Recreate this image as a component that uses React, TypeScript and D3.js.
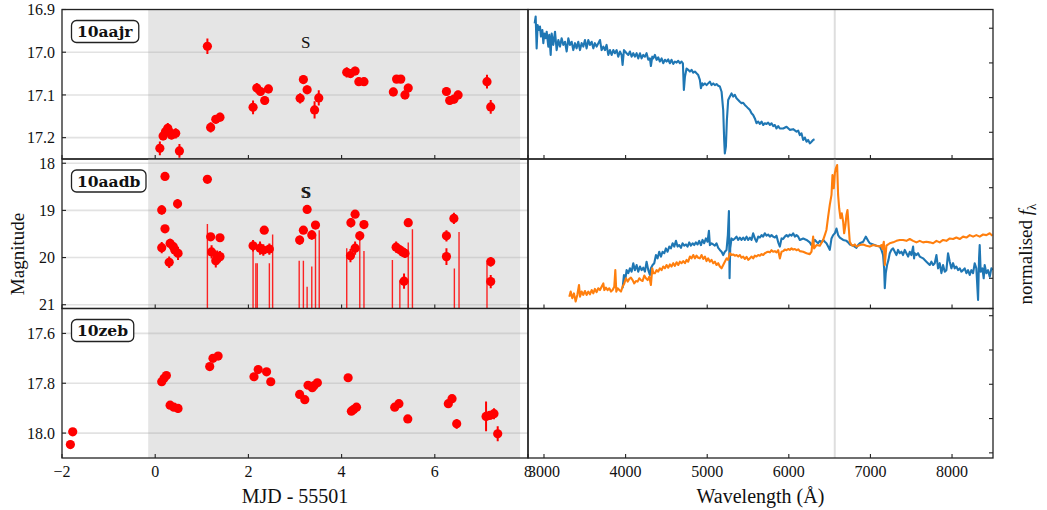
import React, { useEffect, useRef } from 'react';
import * as d3 from 'd3';

const FONT = '"Liberation Serif", "Times New Roman", serif';
const BOXFONT = '"DejaVu Serif", serif';

// light curves, days since MJD 55501
const aajrDays = [0.10, 0.17, 0.22, 0.27, 0.30, 0.35, 0.44, 0.52, 1.12, 1.19, 1.30, 1.39, 2.10, 2.18, 2.26, 2.35, 2.43, 3.11, 3.18, 3.26, 3.42, 3.51, 4.11, 4.19, 4.29, 4.37, 4.48, 5.11, 5.18, 5.27, 5.36, 5.43, 6.25, 6.32, 6.41, 6.50, 7.12, 7.20];
const aajrMag = [17.225, 17.196, 17.186, 17.178, 17.186, 17.194, 17.190, 17.231, 16.986, 17.176, 17.157, 17.152, 17.129, 17.084, 17.092, 17.113, 17.086, 17.108, 17.064, 17.088, 17.135, 17.107, 17.047, 17.050, 17.044, 17.069, 17.069, 17.093, 17.063, 17.063, 17.100, 17.084, 17.092, 17.113, 17.110, 17.100, 17.069, 17.128];
const aajrErr = [0.016, 0.010, 0.010, 0.012, 0.010, 0.010, 0.012, 0.016, 0.018, 0.012, 0.010, 0.010, 0.016, 0.012, 0.010, 0.010, 0.010, 0.012, 0.010, 0.010, 0.020, 0.018, 0.012, 0.010, 0.010, 0.010, 0.010, 0.010, 0.008, 0.008, 0.010, 0.010, 0.010, 0.010, 0.010, 0.010, 0.016, 0.016];

const aadbDays = [0.14, 0.14, 0.21, 0.21, 0.30, 0.32, 0.39, 0.42, 0.48, 0.49, 1.12, 1.19, 1.21, 1.30, 1.33, 1.39, 1.39, 2.10, 2.25, 2.34, 2.32, 2.45, 3.10, 3.18, 3.26, 3.36, 3.44, 4.19, 4.20, 4.29, 4.29, 4.39, 4.48, 5.17, 5.24, 5.31, 5.36, 5.34, 5.43, 6.25, 6.25, 6.41, 7.20, 7.20];
const aadbMag = [19.79, 18.99, 18.28, 19.39, 20.10, 19.70, 19.77, 19.84, 18.86, 19.91, 18.34, 19.56, 19.88, 20.07, 19.97, 19.58, 19.98, 19.75, 19.80, 19.42, 19.84, 19.82, 19.63, 19.42, 18.98, 19.52, 19.31, 19.96, 19.26, 19.08, 19.80, 19.54, 19.30, 19.78, 19.83, 19.88, 19.91, 20.50, 19.26, 19.54, 19.98, 19.17, 20.09, 20.51];
const aadbErr = [0.12, 0.10, 0.06, 0.08, 0.12, 0.10, 0.10, 0.12, 0.10, 0.14, 0.06, 0.08, 0.14, 0.14, 0.12, 0.08, 0.12, 0.12, 0.14, 0.08, 0.12, 0.12, 0.10, 0.08, 0.08, 0.10, 0.08, 0.14, 0.10, 0.08, 0.14, 0.10, 0.08, 0.12, 0.10, 0.10, 0.10, 0.16, 0.08, 0.12, 0.18, 0.12, 0.10, 0.14];
// faint detections: error bars reaching up from below the axis
const aadbLimDays = [1.12, 2.10, 2.16, 2.19, 2.45, 2.52, 3.09, 3.18, 3.26, 3.36, 3.44, 3.52, 4.11, 4.39, 4.48, 5.09, 5.25, 5.43, 5.52, 6.42, 6.52, 7.12];
const aadbLimMag = [19.29, 19.80, 20.12, 20.12, 20.12, 19.51, 20.07, 20.07, 20.62, 20.19, 19.51, 19.42, 19.80, 19.56, 19.86, 20.05, 20.48, 19.68, 19.40, 20.23, 19.46, 20.12];

const zebDays = [-1.82, -1.77, 0.14, 0.19, 0.24, 0.32, 0.40, 0.49, 1.17, 1.24, 1.35, 2.12, 2.21, 2.39, 2.48, 3.10, 3.21, 3.28, 3.37, 3.41, 3.48, 4.14, 4.21, 4.26, 4.32, 5.14, 5.23, 5.42, 6.29, 6.37, 6.47, 7.10, 7.18, 7.27, 7.35];
const zebMag = [18.046, 17.995, 17.794, 17.780, 17.769, 17.888, 17.896, 17.901, 17.733, 17.700, 17.691, 17.774, 17.745, 17.754, 17.794, 17.845, 17.866, 17.808, 17.818, 17.809, 17.798, 17.778, 17.912, 17.905, 17.896, 17.896, 17.882, 17.943, 17.882, 17.862, 17.963, 17.933, 17.929, 17.922, 18.003];
const zebErr = [0.015, 0.010, 0.008, 0.008, 0.008, 0.008, 0.010, 0.018, 0.008, 0.008, 0.008, 0.008, 0.008, 0.008, 0.015, 0.008, 0.008, 0.008, 0.008, 0.008, 0.012, 0.008, 0.008, 0.008, 0.012, 0.008, 0.008, 0.008, 0.008, 0.008, 0.020, 0.060, 0.010, 0.022, 0.030];

// spectra [wavelength in Angstrom, normalised flux]
const spec10aajr: [number, number][] = [
  [2886, 4.14], [2898, 4.34], [2910, 3.42], [2922, 4.09], [2939, 3.95], [2951, 4.05], [2963, 3.76], [2980, 3.95], [2992, 3.57], [3004, 3.85],
  [3020, 3.71], [3033, 3.90], [3053, 3.47], [3065, 3.81], [3082, 3.23], [3094, 3.85], [3114, 3.52], [3135, 3.90], [3155, 3.37], [3176, 3.66],
  [3196, 3.47], [3216, 3.71], [3237, 3.52], [3257, 3.61], [3278, 3.33], [3298, 3.71], [3318, 3.52], [3339, 3.61], [3359, 3.37], [3380, 3.57],
  [3400, 3.42], [3420, 3.61], [3441, 3.37], [3461, 3.57], [3482, 3.47], [3502, 3.66], [3522, 3.42], [3543, 3.66], [3563, 3.52], [3584, 3.61],
  [3604, 3.42], [3624, 3.57], [3645, 3.47], [3686, 3.66], [3706, 3.37], [3727, 3.47], [3747, 3.37], [3767, 3.52], [3788, 3.23], [3808, 3.37],
  [3829, 3.23], [3849, 3.37], [3869, 3.28], [3890, 3.37], [3910, 3.18], [3931, 3.33], [3951, 3.23], [3963, 2.94], [3980, 3.37], [4012, 3.28],
  [4033, 3.23], [4053, 3.33], [4074, 3.18], [4094, 3.28], [4114, 3.18], [4135, 3.28], [4155, 3.13], [4176, 3.28], [4196, 3.13], [4216, 3.23],
  [4237, 3.18], [4257, 3.28], [4278, 3.09], [4298, 3.13], [4310, 2.91], [4327, 3.18], [4339, 3.13], [4359, 3.23], [4380, 3.09], [4400, 3.16],
  [4420, 3.04], [4441, 3.13], [4461, 2.99], [4482, 3.09], [4502, 3.04], [4522, 3.10], [4543, 2.99], [4563, 3.09], [4584, 2.97], [4604, 3.04],
  [4625, 3.01], [4645, 3.06], [4665, 2.99], [4686, 3.04], [4702, 2.99], [4714, 2.22], [4727, 2.60], [4747, 2.84], [4767, 2.80], [4788, 2.75],
  [4808, 2.80], [4829, 2.72], [4849, 2.75], [4869, 2.70], [4890, 2.65], [4910, 2.51], [4923, 2.27], [4939, 2.41], [4951, 2.36], [4972, 2.41],
  [4992, 2.36], [5012, 2.41], [5033, 2.46], [5053, 2.36], [5074, 2.41], [5094, 2.36], [5114, 2.39], [5135, 2.34], [5155, 2.32], [5176, 2.17],
  [5196, 1.64], [5208, 0.78], [5216, 0.39], [5229, 0.59], [5241, 1.35], [5257, 1.93], [5278, 2.03], [5298, 2.12], [5318, 2.03], [5339, 2.08],
  [5359, 1.98], [5380, 1.93], [5400, 1.88], [5420, 1.84], [5441, 1.85], [5461, 1.79], [5482, 1.74], [5502, 1.69], [5523, 1.64], [5543, 1.55],
  [5563, 1.50], [5584, 1.40], [5604, 1.26], [5625, 1.31], [5645, 1.24], [5666, 1.31], [5686, 1.21], [5706, 1.26], [5727, 1.24], [5747, 1.28],
  [5768, 1.21], [5788, 1.26], [5808, 1.18], [5829, 1.21], [5849, 1.11], [5870, 1.18], [5890, 1.11], [5931, 1.11], [5972, 1.16], [6012, 1.07],
  [6053, 1.09], [6094, 1.02], [6115, 1.05], [6135, 0.92], [6155, 0.97], [6176, 0.78], [6196, 0.85], [6217, 0.73], [6237, 0.78], [6257, 0.68],
  [6278, 0.73], [6298, 0.78], [6315, 0.80],
];

const spec10aadbEarly: [number, number][] = [
  [3963, 0.67], [3980, 1.11], [3996, 0.94], [4012, 1.27], [4033, 1.17], [4053, 1.33], [4074, 1.22], [4094, 1.50], [4114, 1.27], [4135, 1.44],
  [4155, 1.22], [4176, 1.39], [4196, 1.27], [4216, 1.35], [4237, 1.22], [4257, 1.55], [4278, 1.27], [4298, 1.11], [4310, 1.33], [4331, 1.44],
  [4351, 1.50], [4372, 1.77], [4392, 1.66], [4412, 1.88], [4433, 1.72], [4453, 1.88], [4474, 1.83], [4494, 1.99], [4514, 1.88], [4535, 2.05],
  [4555, 1.99], [4576, 2.16], [4596, 2.05], [4617, 2.24], [4637, 2.05], [4657, 2.10], [4678, 2.01], [4698, 2.16], [4719, 2.08], [4739, 2.12],
  [4759, 2.05], [4780, 2.19], [4800, 2.08], [4821, 2.16], [4841, 2.10], [4861, 2.19], [4882, 2.12], [4902, 2.24], [4923, 2.10], [4943, 2.27],
  [4963, 2.16], [4984, 2.32], [5004, 2.21], [5021, 2.57], [5033, 2.10], [5053, 2.16], [5074, 2.12], [5094, 2.08], [5114, 2.16], [5135, 2.01],
  [5155, 1.94], [5176, 1.88], [5196, 1.77], [5216, 1.88], [5237, 1.94], [5253, 2.43], [5266, 3.23], [5274, 1.00], [5282, 1.99], [5298, 2.32],
  [5318, 2.27], [5339, 2.32], [5359, 2.38], [5380, 2.27], [5400, 2.35], [5420, 2.27], [5441, 2.35], [5461, 2.27], [5482, 2.38], [5502, 2.27],
  [5523, 2.35], [5543, 2.27], [5563, 2.49], [5584, 2.32], [5604, 2.21], [5625, 2.38], [5645, 2.35], [5666, 2.43], [5686, 2.38], [5706, 2.49],
  [5727, 2.41], [5747, 2.45], [5768, 2.38], [5788, 2.43], [5808, 2.38], [5829, 2.35], [5849, 2.41], [5870, 2.19], [5890, 2.05], [5911, 2.32],
  [5931, 2.30], [5951, 2.38], [5972, 2.43], [5992, 2.38], [6012, 2.45], [6033, 2.41], [6053, 2.49], [6074, 2.38], [6094, 2.43], [6115, 2.38],
  [6135, 2.27], [6176, 2.32], [6217, 2.27], [6257, 2.19], [6278, 2.10], [6298, 2.19], [6319, 2.27], [6339, 2.21], [6359, 2.16], [6380, 2.24],
  [6400, 2.19], [6421, 2.27], [6441, 2.21], [6461, 2.16], [6482, 2.05], [6502, 1.94], [6523, 2.32], [6543, 2.43], [6564, 2.49], [6584, 2.65],
  [6604, 2.43], [6625, 2.35], [6666, 2.27], [6706, 2.24], [6727, 2.19], [6747, 2.12], [6788, 2.08], [6829, 2.01], [6849, 2.10], [6870, 2.16],
  [6911, 2.21], [6943, 2.38], [6972, 2.24], [6992, 2.16], [7033, 2.12], [7074, 2.08], [7115, 2.05], [7135, 1.94], [7155, 1.77], [7168, 1.33],
  [7176, 0.67], [7188, 1.17], [7204, 1.44], [7221, 1.61], [7237, 1.83], [7257, 1.94], [7278, 1.99], [7298, 1.88], [7319, 1.77], [7339, 1.94],
  [7359, 1.83], [7380, 1.88], [7400, 1.77], [7421, 1.94], [7441, 1.83], [7462, 1.72], [7482, 1.88], [7502, 1.77], [7523, 2.05], [7535, 1.66],
  [7543, 1.83], [7564, 1.77], [7584, 1.83], [7604, 1.72], [7645, 1.66], [7686, 1.55], [7727, 1.44], [7747, 1.55], [7768, 1.44], [7788, 1.50],
  [7809, 1.77], [7829, 1.33], [7849, 1.50], [7870, 1.17], [7890, 1.44], [7911, 1.22], [7931, 1.27], [7951, 1.83], [7972, 1.55], [7992, 1.33],
  [8013, 1.50], [8033, 1.33], [8053, 1.39], [8074, 1.27], [8094, 1.33], [8115, 1.22], [8135, 1.27], [8155, 1.33], [8176, 1.17], [8196, 1.27],
  [8217, 1.11], [8237, 1.27], [8258, 1.17], [8278, 1.50], [8298, 1.33], [8311, 0.67], [8319, 0.28], [8331, 1.66], [8339, 2.10], [8351, 1.22],
  [8372, 1.33], [8388, 1.00], [8400, 1.44], [8421, 1.17], [8441, 1.27], [8462, 1.05], [8482, 1.33], [8494, 1.27],
];

const spec10aadbLate: [number, number][] = [
  [3310, 0.39], [3327, 0.56], [3347, 0.34], [3367, 0.50], [3388, 0.23], [3408, 0.45], [3429, 0.78], [3441, 0.39], [3461, 0.56], [3482, 0.45],
  [3502, 0.58], [3522, 0.45], [3543, 0.56], [3563, 0.47], [3584, 0.61], [3604, 0.50], [3624, 0.65], [3645, 0.54], [3665, 0.67], [3686, 0.61],
  [3706, 0.72], [3727, 0.83], [3739, 0.61], [3759, 0.69], [3780, 0.61], [3800, 0.67], [3821, 0.56], [3841, 0.61], [3861, 0.72], [3874, 1.27],
  [3886, 0.56], [3902, 0.67], [3923, 0.61], [3943, 0.56], [3963, 0.72], [3984, 0.83], [4004, 1.00], [4025, 0.89], [4045, 0.98], [4065, 1.02],
  [4086, 0.94], [4106, 0.83], [4127, 0.91], [4147, 0.89], [4168, 1.00], [4188, 0.94], [4208, 0.91], [4229, 1.09], [4249, 1.00], [4270, 0.94],
  [4290, 1.05], [4310, 0.78], [4327, 1.33], [4339, 1.17], [4359, 1.17], [4380, 1.27], [4400, 1.22], [4420, 1.33], [4441, 1.27], [4461, 1.39],
  [4482, 1.33], [4502, 1.44], [4522, 1.35], [4543, 1.46], [4563, 1.39], [4584, 1.50], [4604, 1.41], [4625, 1.53], [4645, 1.44], [4665, 1.55],
  [4686, 1.50], [4706, 1.57], [4727, 1.50], [4747, 1.61], [4767, 1.55], [4788, 1.72], [4808, 1.66], [4829, 1.77], [4849, 1.66], [4869, 1.75],
  [4890, 1.68], [4910, 1.66], [4931, 1.77], [4951, 1.64], [4972, 1.72], [4992, 1.57], [5012, 1.66], [5033, 1.55], [5053, 1.61], [5074, 1.50],
  [5094, 1.55], [5114, 1.44], [5135, 1.50], [5155, 1.39], [5176, 1.33], [5196, 1.44], [5216, 1.55], [5237, 1.66], [5257, 1.61], [5278, 1.83],
  [5298, 1.77], [5318, 1.79], [5339, 1.75], [5359, 1.77], [5380, 1.72], [5400, 1.77], [5420, 1.68], [5441, 1.72], [5461, 1.64], [5482, 1.71],
  [5502, 1.61], [5523, 1.66], [5543, 1.72], [5563, 1.66], [5584, 1.75], [5604, 1.72], [5625, 1.77], [5645, 1.75], [5666, 1.80], [5686, 1.77],
  [5706, 1.83], [5727, 1.86], [5747, 1.88], [5768, 1.86], [5788, 1.93], [5808, 1.88], [5829, 1.90], [5849, 1.86], [5870, 1.93], [5890, 1.66],
  [5911, 1.88], [5931, 1.90], [5951, 1.95], [5972, 1.93], [5992, 1.97], [6012, 1.94], [6033, 1.99], [6053, 1.95], [6074, 1.97], [6094, 1.93],
  [6115, 1.96], [6135, 1.90], [6176, 1.88], [6217, 1.83], [6257, 1.80], [6278, 1.88], [6298, 2.38], [6310, 1.99], [6339, 2.10], [6380, 2.08],
  [6421, 2.27], [6441, 2.43], [6461, 2.60], [6482, 3.04], [6502, 3.43], [6523, 3.76], [6535, 4.42], [6551, 3.98], [6564, 4.48], [6576, 4.64],
  [6592, 4.75], [6604, 3.76], [6617, 3.32], [6633, 2.99], [6649, 3.15], [6666, 2.87], [6678, 2.49], [6694, 2.76], [6706, 3.10], [6719, 3.26],
  [6735, 2.65], [6747, 2.21], [6768, 2.10], [6788, 2.08], [6808, 2.12], [6829, 2.05], [6870, 2.10], [6911, 2.12], [6951, 2.08], [6992, 2.05],
  [7033, 2.10], [7074, 2.08], [7115, 2.05], [7135, 2.10], [7147, 1.97], [7164, 2.21], [7176, 1.44], [7196, 2.08], [7217, 2.12], [7237, 2.16],
  [7278, 2.19], [7319, 2.24], [7359, 2.27], [7400, 2.27], [7441, 2.24], [7482, 2.30], [7523, 2.24], [7564, 2.19], [7604, 2.24], [7645, 2.19],
  [7686, 2.21], [7727, 2.19], [7768, 2.16], [7809, 2.24], [7849, 2.19], [7890, 2.27], [7931, 2.24], [7972, 2.32], [8013, 2.30], [8053, 2.35],
  [8094, 2.30], [8135, 2.38], [8176, 2.35], [8217, 2.43], [8258, 2.38], [8298, 2.43], [8339, 2.38], [8380, 2.45], [8421, 2.43], [8462, 2.49],
  [8494, 2.41],
];

const mjdTicks = [-2, 0, 2, 4, 6, 8];
const waveTicks = [3000, 4000, 5000, 6000, 7000, 8000];
const aajrTicks = [16.9, 17.0, 17.1, 17.2];
const aadbTicks = [18, 19, 20, 21];
const zebTicks = [17.6, 17.8, 18.0];
const fluxTicksTop = [1, 2, 3, 4];
const fluxTicksMid = [0, 1, 2, 3, 4];
const fluxTicksBot = [0, 1, 2, 3, 4];
const windowStart = -0.15;
const windowEnd = 7.83;
const halpha = 6563;

const App: React.FC = () => {
  const ref = useRef<SVGSVGElement>(null);

  useEffect(() => {
    const svg = d3.select(ref.current);
    svg.selectAll('*').remove();

    const L0 = 62, L1 = 528, R1 = 993;
    const rows: [number, number][] = [[9.5, 159], [159, 308.5], [308.5, 458]];
    const x = d3.scaleLinear().domain([-2, 8]).range([L0, L1]);
    const xw = d3.scaleLinear().domain([2804, 8502]).range([L1, R1]);

    const panels = [
      { label: '10aajr', days: aajrDays, mag: aajrMag, err: aajrErr, dom: [16.9, 17.25], ticks: aajrTicks, fmt: d3.format('.1f'),
        limDays: [] as number[], limMag: [] as number[], epochs: [3.23],
        fdom: [0.23, 4.54], fticks: fluxTicksTop, spectra: [{ d: spec10aajr, c: '#1f77b4' }] },
      { label: '10aadb', days: aadbDays, mag: aadbMag, err: aadbErr, dom: [17.91, 21.08], ticks: aadbTicks, fmt: d3.format('d'),
        limDays: aadbLimDays, limMag: aadbLimMag, epochs: [3.22, 3.25],
        fdom: [0, 4.95], fticks: fluxTicksMid, spectra: [{ d: spec10aadbEarly, c: '#1f77b4' }, { d: spec10aadbLate, c: '#ff7f0e' }] },
      { label: '10zeb', days: zebDays, mag: zebMag, err: zebErr, dom: [17.5, 18.1], ticks: zebTicks, fmt: d3.format('.1f'),
        limDays: [] as number[], limMag: [] as number[], epochs: [] as number[],
        fdom: [-0.15, 4.21], fticks: fluxTicksBot, spectra: [] as { d: [number, number][]; c: string }[] },
    ];

    const defs = svg.append('defs');
    const ink = '#222';

    panels.forEach((p, i) => {
      const [top, bot] = rows[i];
      const y = d3.scaleLinear().domain(p.dom).range([top, bot]);
      const fy = d3.scaleLinear().domain(p.fdom).range([bot, top]);

      // ---- left: light curve ----
      defs.append('clipPath').attr('id', `cl${i}`)
        .append('rect').attr('x', L0).attr('y', top).attr('width', L1 - L0).attr('height', bot - top);
      const g = svg.append('g');
      const gc = g.append('g').attr('clip-path', `url(#cl${i})`);

      gc.append('rect')
        .attr('x', x(windowStart)).attr('y', top)
        .attr('width', x(windowEnd) - x(windowStart)).attr('height', bot - top)
        .attr('fill', '#e5e5e5');

      gc.selectAll('.grid').data(p.ticks).enter().append('line')
        .attr('x1', L0).attr('x2', L1).attr('y1', d => y(d)).attr('y2', d => y(d))
        .attr('stroke', '#a8a8a8').attr('stroke-opacity', 0.33).attr('stroke-width', 1.6);

      gc.selectAll('.lim').data(p.limDays).enter().append('line')
        .attr('x1', d => x(d)).attr('x2', d => x(d))
        .attr('y1', bot).attr('y2', (d, k) => y(p.limMag[k]))
        .attr('stroke', '#ff0000').attr('stroke-width', 1.4).attr('stroke-opacity', 0.85);

      gc.selectAll('.eb').data(p.days).enter().append('line')
        .attr('x1', d => x(d)).attr('x2', d => x(d))
        .attr('y1', (d, k) => y(p.mag[k] - p.err[k])).attr('y2', (d, k) => y(p.mag[k] + p.err[k]))
        .attr('stroke', '#ff0000').attr('stroke-width', 2);

      gc.selectAll('.pt').data(p.days).enter().append('circle')
        .attr('cx', d => x(d)).attr('cy', (d, k) => y(p.mag[k])).attr('r', 4.6)
        .attr('fill', '#ff0000');

      p.epochs.forEach((e, k) => {
        g.append('text').attr('x', x(e)).attr('y', top + 38.5 + k * 0.8)
          .attr('text-anchor', 'middle').attr('font-family', FONT).attr('font-size', 17)
          .attr('fill', '#111').text('S');
      });

      // name tag
      const tag = g.append('g');
      const tt = tag.append('text').attr('x', 77).attr('y', top + 27.5)
        .attr('font-family', BOXFONT).attr('font-weight', 'bold').attr('font-size', 15.5)
        .attr('fill', '#111').text(p.label);
      const bb = (tt.node() as SVGTextElement).getBBox();
      tag.insert('rect', 'text')
        .attr('x', bb.x - 5.5).attr('y', bb.y - 1.5).attr('width', bb.width + 11).attr('height', bb.height + 3)
        .attr('rx', 5).attr('fill', 'white').attr('stroke', ink).attr('stroke-width', 1.3);

      g.append('rect').attr('x', L0).attr('y', top).attr('width', L1 - L0).attr('height', bot - top)
        .attr('fill', 'none').attr('stroke', ink).attr('stroke-width', 1.3);

      g.selectAll('.yt').data(p.ticks).enter().append('line')
        .attr('x1', L0).attr('x2', L0 + 4).attr('y1', d => y(d)).attr('y2', d => y(d))
        .attr('stroke', ink).attr('stroke-width', 1.1);
      g.selectAll('.yl').data(p.ticks).enter().append('text')
        .attr('x', L0 - 7).attr('y', d => y(d)).attr('dy', '0.35em')
        .attr('text-anchor', 'end').attr('font-family', FONT).attr('font-size', 16).attr('fill', '#111')
        .text(d => p.fmt(d));

      g.selectAll('.xt').data(mjdTicks).enter().append('line')
        .attr('x1', d => x(d)).attr('x2', d => x(d)).attr('y1', bot).attr('y2', bot - 4)
        .attr('stroke', ink).attr('stroke-width', 1.1);

      // ---- right: spectra ----
      defs.append('clipPath').attr('id', `cr${i}`)
        .append('rect').attr('x', L1).attr('y', top).attr('width', R1 - L1).attr('height', bot - top);
      const r = svg.append('g');
      const rc = r.append('g').attr('clip-path', `url(#cr${i})`);

      rc.append('line').attr('x1', xw(halpha)).attr('x2', xw(halpha)).attr('y1', top).attr('y2', bot)
        .attr('stroke', '#dedede').attr('stroke-width', 2);

      const line = d3.line<[number, number]>().x(d => xw(d[0])).y(d => fy(d[1]));
      p.spectra.forEach(s => {
        rc.append('path').attr('d', line(s.d) as string)
          .attr('fill', 'none').attr('stroke', s.c).attr('stroke-width', 2.1).attr('stroke-linejoin', 'round');
      });

      r.append('rect').attr('x', L1).attr('y', top).attr('width', R1 - L1).attr('height', bot - top)
        .attr('fill', 'none').attr('stroke', ink).attr('stroke-width', 1.3);

      r.selectAll('.ft').data(p.fticks).enter().append('line')
        .attr('x1', R1).attr('x2', R1 - 4).attr('y1', d => fy(d)).attr('y2', d => fy(d))
        .attr('stroke', ink).attr('stroke-width', 1.1);

      r.selectAll('.wt').data(waveTicks).enter().append('line')
        .attr('x1', d => xw(d)).attr('x2', d => xw(d)).attr('y1', bot).attr('y2', bot - 4)
        .attr('stroke', ink).attr('stroke-width', 1.1);
    });

    const base = rows[2][1];
    svg.selectAll('.xl').data(mjdTicks).enter().append('text')
      .attr('x', d => x(d)).attr('y', base + 19).attr('text-anchor', 'middle')
      .attr('font-family', FONT).attr('font-size', 16).attr('fill', '#111')
      .text(d => d3.format('d')(d));
    svg.selectAll('.wl').data(waveTicks).enter().append('text')
      .attr('x', d => xw(d)).attr('y', base + 19).attr('text-anchor', 'middle')
      .attr('font-family', FONT).attr('font-size', 16).attr('fill', '#111')
      .text(d => d3.format('d')(d));

    svg.append('text').attr('x', (L0 + L1) / 2).attr('y', 503).attr('text-anchor', 'middle')
      .attr('font-family', FONT).attr('font-size', 20).attr('fill', '#111').text('MJD - 55501');
    svg.append('text').attr('x', (L1 + R1) / 2).attr('y', 503).attr('text-anchor', 'middle')
      .attr('font-family', FONT).attr('font-size', 20).attr('fill', '#111').text('Wavelength (Å)');
    svg.append('text').attr('transform', 'translate(24,254) rotate(-90)').attr('text-anchor', 'middle')
      .attr('font-family', FONT).attr('font-size', 19).attr('fill', '#111').text('Magnitude');
    const nf = svg.append('text').attr('transform', 'translate(1032,254) rotate(-90)').attr('text-anchor', 'middle')
      .attr('font-family', FONT).attr('font-size', 19).attr('fill', '#111');
    nf.append('tspan').text('normalised ');
    nf.append('tspan').attr('font-style', 'italic').text('f');
    nf.append('tspan').attr('font-size', 13).attr('dy', 4).text('λ');
  }, []);

  return (
    <svg ref={ref} width={1047} height={510}
      style={{ position: 'absolute', left: 0, top: 0, background: 'white' }} />
  );
};

export default App;
